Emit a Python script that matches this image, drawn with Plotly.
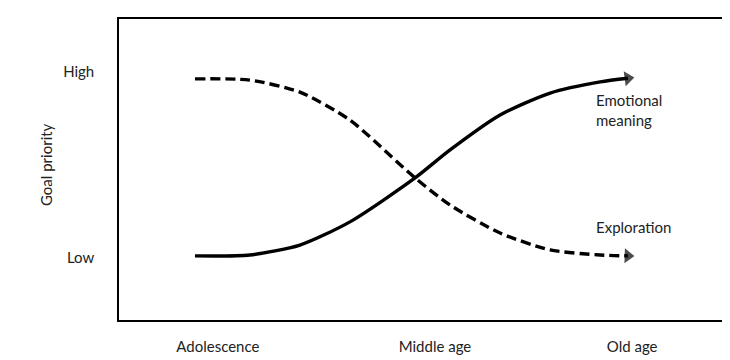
import plotly.graph_objects as go

# Age axis (0-100 scale across the box) and goal priority (0-100)
age_ticks = [16.4, 52.4, 85.1]
age_labels = ["Adolescence", "Middle age", "Old age"]
priority_ticks = [20.6, 82.4]
priority_labels = ["Low", "High"]

age_points = [12.6, 21.7, 30.0, 38.3, 49.1, 54.9, 63.2, 71.5, 79.8, 84.4]
emotional_meaning = [21.3, 21.6, 24.9, 32.6, 47.2, 56.5, 68.1, 75.4, 79.1, 80.3]
exploration = [80.1, 79.7, 75.7, 66.4, 47.2, 38.2, 28.9, 23.3, 21.6, 21.3]

FONT = "Lato"
TXT = "#222222"

def arrow_sizes(n, s):
    return [0] * (n - 1) + [s]

fig = go.Figure()
fig.add_trace(go.Scatter(
    x=age_points, y=emotional_meaning, mode="lines+markers",
    line=dict(color="black", width=3.4, shape="spline", smoothing=0.7),
    marker=dict(symbol="triangle-up", size=arrow_sizes(len(age_points), 13),
                angleref="previous", color="black", line=dict(width=0)),
    hoverinfo="skip", showlegend=False))
fig.add_trace(go.Scatter(
    x=age_points, y=exploration, mode="lines+markers",
    line=dict(color="black", width=3.4, dash="10px,5px", shape="spline", smoothing=0.7),
    marker=dict(symbol="triangle-up", size=arrow_sizes(len(age_points), 13),
                angleref="previous", color="black", line=dict(width=0)),
    hoverinfo="skip", showlegend=False))

fig.add_annotation(x=78.8, y=69.8, xref="x", yref="y", text="Emotional<br>meaning",
                   showarrow=False, xanchor="left", yanchor="middle", align="left",
                   font=dict(family=FONT, size=15, color=TXT))
fig.add_annotation(x=78.8, y=30.9, xref="x", yref="y", text="Exploration",
                   showarrow=False, xanchor="left", yanchor="middle", align="left",
                   font=dict(family=FONT, size=15, color=TXT))
fig.add_annotation(xref="x domain", yref="y domain",
                   x=(35 - 119) / 603, y=(320 - 165) / 301, text="Goal priority",
                   showarrow=False, textangle=-90,
                   font=dict(family=FONT, size=15, color=TXT))

# page body has an 8px margin; size the figure so it fits the window
fig.update_layout(
    width=714, height=352,
    margin=dict(l=111, r=0, t=11, b=40),
    plot_bgcolor="white", paper_bgcolor="white",
    font=dict(family=FONT, size=15, color=TXT),
)
fig.update_xaxes(range=[0, 100], tickvals=age_ticks, ticktext=age_labels,
                 showgrid=False, zeroline=False, showline=True, mirror=True,
                 linecolor="black", linewidth=1.5, ticks="", ticklabelstandoff=12,
                 automargin=False, fixedrange=True)
fig.update_yaxes(range=[0, 100], tickvals=priority_ticks, ticktext=priority_labels,
                 showgrid=False, zeroline=False, showline=True, mirror=True,
                 linecolor="black", linewidth=1.5, ticks="", ticklabelstandoff=20,
                 automargin=False, fixedrange=True)

fig.write_html("out.html")
